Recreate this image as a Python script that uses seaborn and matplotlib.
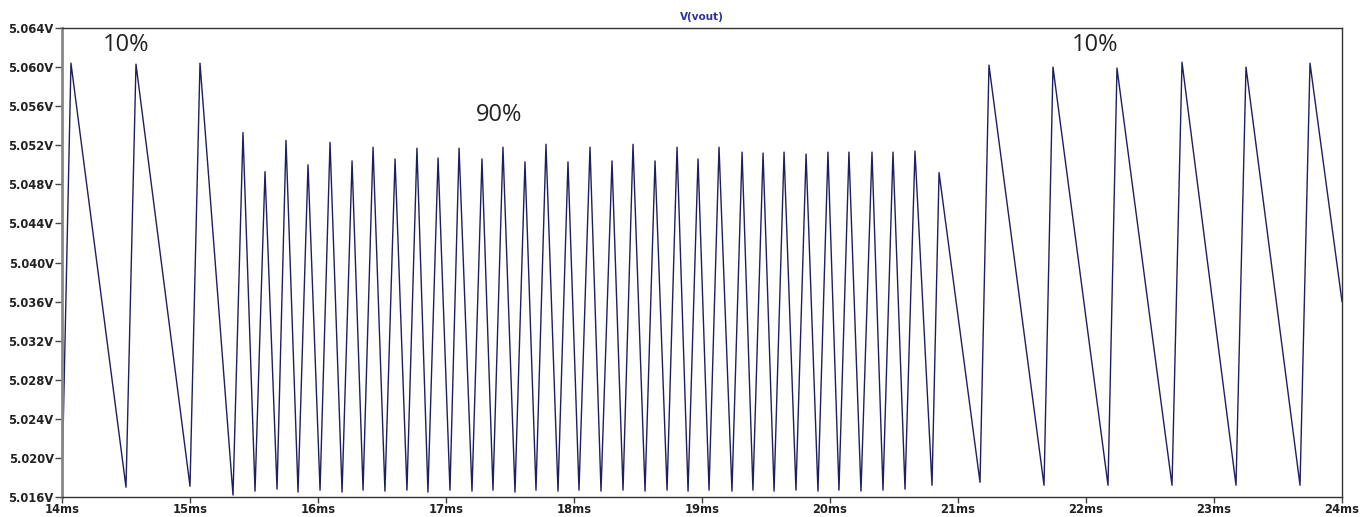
import seaborn as sns
import matplotlib.pyplot as plt
import pandas as pd

# vertices of V(vout) (time in ms, volts)
t_ms = [14.000, 14.070, 14.500, 14.578, 15.000, 15.078,
        15.336, 15.414, 15.508, 15.586, 15.680, 15.750, 15.844, 15.922,
        16.016, 16.094, 16.188, 16.266, 16.352, 16.430, 16.523, 16.602,
        16.695, 16.773, 16.859, 16.938, 17.031, 17.102, 17.203, 17.281,
        17.367, 17.445, 17.539, 17.617, 17.703, 17.781, 17.875, 17.953,
        18.039, 18.125, 18.211, 18.297, 18.383, 18.461, 18.555, 18.633,
        18.727, 18.805, 18.891, 18.969, 19.055, 19.133, 19.234, 19.313,
        19.398, 19.477, 19.563, 19.641, 19.734, 19.813, 19.906, 19.984,
        20.070, 20.148, 20.242, 20.328, 20.414, 20.492, 20.586, 20.664,
        20.797, 20.852,
        21.172, 21.242, 21.672, 21.742, 22.172, 22.242, 22.672, 22.750,
        23.172, 23.250, 23.672, 23.750, 24.000]
v_out = [5.0175, 5.0604, 5.0170, 5.0603, 5.0171, 5.0604,
         5.0162, 5.0533, 5.0166, 5.0493, 5.0168, 5.0525, 5.0165, 5.0500,
         5.0167, 5.0523, 5.0165, 5.0504, 5.0167, 5.0518, 5.0166, 5.0506,
         5.0167, 5.0517, 5.0165, 5.0507, 5.0167, 5.0517, 5.0166, 5.0506,
         5.0167, 5.0518, 5.0165, 5.0503, 5.0167, 5.0521, 5.0166, 5.0503,
         5.0167, 5.0518, 5.0166, 5.0504, 5.0167, 5.0521, 5.0166, 5.0504,
         5.0167, 5.0518, 5.0166, 5.0506, 5.0167, 5.0518, 5.0166, 5.0513,
         5.0167, 5.0512, 5.0166, 5.0513, 5.0167, 5.0511, 5.0166, 5.0513,
         5.0167, 5.0513, 5.0166, 5.0513, 5.0167, 5.0513, 5.0168, 5.0514,
         5.0172, 5.0492,
         5.0175, 5.0602, 5.0172, 5.0600, 5.0172, 5.0599, 5.0172, 5.0605,
         5.0172, 5.0600, 5.0172, 5.0604, 5.0360]

y_ticks = [5.016, 5.020, 5.024, 5.028, 5.032, 5.036, 5.040, 5.044,
           5.048, 5.052, 5.056, 5.060, 5.064]
x_ticks = [14, 15, 16, 17, 18, 19, 20, 21, 22, 23, 24]
duty_labels = ['10%', '90%', '10%']
duty_t = [14.32, 17.23, 21.89]
duty_v = [5.0623, 5.0551, 5.0623]

df = pd.DataFrame({'t': t_ms, 'v': v_out})

sns.set_style('white')
fig = plt.figure(figsize=(13.6, 5.17), dpi=100)
ax = fig.add_axes([62 / 1360, 1 - 497 / 517, 1280 / 1360, 469 / 517])

sns.lineplot(x='t', y='v', data=df, ax=ax, estimator=None, sort=False,
             color='#1e1e60', linewidth=1.0)

ax.set_xlim(14, 24)
ax.set_ylim(5.016, 5.064)
ax.set_xticks(x_ticks)
ax.set_xticklabels([f'{x}ms' for x in x_ticks])
ax.set_yticks(y_ticks)
ax.set_yticklabels([f'{y:.3f}V' for y in y_ticks])
ax.tick_params(axis='both', direction='out', length=5, width=1, color='#444444',
               labelsize=8.3, pad=1, left=True, bottom=True)
ax.tick_params(axis='x', length=4, pad=0)
for lbl in ax.get_xticklabels() + ax.get_yticklabels():
    lbl.set_fontweight('bold')
    lbl.set_color('#222222')
ax.set_xlabel('')
ax.set_ylabel('')

for side in ['top', 'right', 'bottom']:
    ax.spines[side].set_color('#333333')
    ax.spines[side].set_linewidth(1.0)
ax.spines['left'].set_color('#888888')
ax.spines['left'].set_linewidth(2.0)

ax.set_title('V(vout)', color='#3030a0', fontsize=7.5, fontweight='bold', pad=6)

for lab, tx, vy in zip(duty_labels, duty_t, duty_v):
    ax.text(tx, vy, lab, fontsize=17, family='Open Sans', color='#222222',
            ha='left', va='center')

fig.savefig('out.png', dpi=100)
